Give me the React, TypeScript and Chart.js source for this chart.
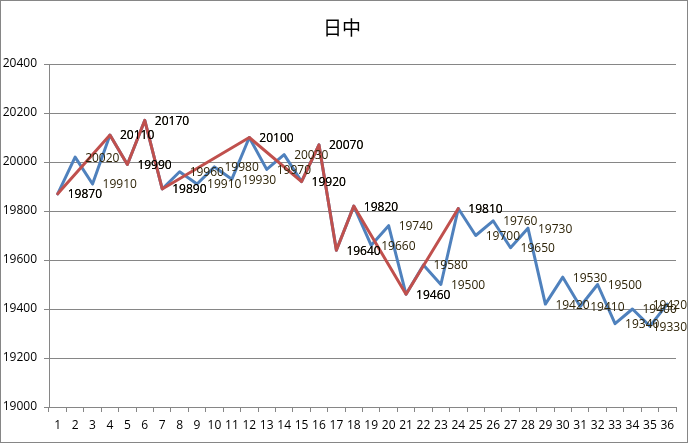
import React, { useEffect, useRef } from "react";
import { Chart, registerables } from "chart.js";

Chart.register(...registerables);

const categories: string[] = Array.from({ length: 36 }, (_, i) => String(i + 1));

const blueValues: number[] = [
  19870, 20020, 19910, 20110, 19990, 20170, 19890, 19960, 19910, 19980, 19930, 20100,
  19970, 20030, 19920, 20070, 19640, 19820, 19660, 19740, 19460, 19580, 19500, 19810,
  19700, 19760, 19650, 19730, 19420, 19530, 19410, 19500, 19340, 19400, 19330, 19420,
];

const redValues: (number | null)[] = [
  19870, null, null, 20110, 19990, 20170, 19890, null, null, null, null, 20100,
  null, null, 19920, 20070, 19640, 19820, null, null, 19460, null, null, 19810,
  null, null, null, null, null, null, null, null, null, null, null, null,
];

const yMin = 19000;
const yMax = 20400;
const yStep = 200;
const titleText = "日中";

const FONT = '"Open Sans", "Liberation Sans", sans-serif';

const decorPlugin = {
  id: "decor",
  beforeDraw(chart: any) {
    const ctx = chart.ctx;
    ctx.save();
    ctx.fillStyle = "#ffffff";
    ctx.fillRect(0, 0, chart.width, chart.height);
    ctx.restore();
  },
  afterDatasetsDraw(chart: any) {
    const ctx = chart.ctx;
    ctx.save();
    ctx.font = `12px ${FONT}`;
    ctx.textBaseline = "middle";
    ctx.textAlign = "left";
    const drawSet = (dsIndex: number, color: string) => {
      const meta = chart.getDatasetMeta(dsIndex);
      const data = chart.data.datasets[dsIndex].data;
      meta.data.forEach((pt: any, i: number) => {
        const v = data[i];
        if (v === null || v === undefined) return;
        const txt = String(v);
        const w = ctx.measureText(txt).width;
        let x = pt.x + 10;
        if (x + w > chart.width - 1) x = chart.width - 1 - w;
        ctx.fillStyle = color;
        ctx.fillText(txt, x, pt.y + 1);
      });
    };
    drawSet(1, "#2e2408");
    drawSet(0, "#000000");
    ctx.restore();
  },
  afterDraw(chart: any) {
    const ctx = chart.ctx;
    ctx.save();
    ctx.font = `19px "Noto Sans CJK JP", sans-serif`;
    ctx.fillStyle = "#000000";
    ctx.textAlign = "center";
    ctx.textBaseline = "middle";
    ctx.fillText(titleText, 342, 28);
    ctx.strokeStyle = "#868686";
    ctx.lineWidth = 1;
    ctx.strokeRect(0.5, 0.5, 687, 442);
    ctx.restore();
  },
};

export default function App() {
  const canvasRef = useRef<HTMLCanvasElement | null>(null);

  useEffect(() => {
    if (!canvasRef.current) return;
    const chart = new Chart(canvasRef.current, {
      type: "line",
      data: {
        labels: categories,
        datasets: [
          {
            label: "red",
            data: redValues,
            borderColor: "#C0504D",
            backgroundColor: "#C0504D",
            borderWidth: 3,
            pointRadius: 0,
            spanGaps: true,
            tension: 0,
            borderJoinStyle: "round",
            borderCapStyle: "round",
          },
          {
            label: "blue",
            data: blueValues,
            borderColor: "#4F81BD",
            backgroundColor: "#4F81BD",
            borderWidth: 3,
            pointRadius: 0,
            tension: 0,
            borderJoinStyle: "round",
            borderCapStyle: "round",
          },
        ],
      },
      options: {
        responsive: false,
        animation: false,
        layout: { padding: { left: 0, right: 12, top: 64, bottom: 0 } },
        plugins: {
          legend: { display: false },
          title: { display: false },
          tooltip: { enabled: false },
        },
        scales: {
          x: {
            type: "category",
            offset: true,
            grid: {
              offset: true,
              drawOnChartArea: false,
              drawTicks: true,
              tickLength: 5,
              color: "#868686",
            },
            border: { display: true, color: "#868686" },
            ticks: {
              color: "#000000",
              font: { family: FONT, size: 12 },
              padding: 6,
              maxRotation: 0,
              autoSkip: false,
            },
            afterFit: (scale: any) => {
              scale.height = 36;
            },
          },
          y: {
            min: yMin,
            max: yMax,
            grid: {
              color: "#868686",
              drawTicks: true,
              tickLength: 5,
            },
            border: { display: true, color: "#868686" },
            ticks: {
              stepSize: yStep,
              color: "#000000",
              font: { family: FONT, size: 12 },
              padding: 7,
              callback: (value: any) => String(value),
            },
            afterFit: (scale: any) => {
              scale.width = 49;
            },
          },
        },
      },
      plugins: [decorPlugin],
    });
    return () => chart.destroy();
  }, []);

  return (
    <div style={{ position: "fixed", left: 0, top: 0, width: 688, height: 443 }}>
      <canvas ref={canvasRef} width={688} height={443} style={{ display: "block" }} />
    </div>
  );
}
